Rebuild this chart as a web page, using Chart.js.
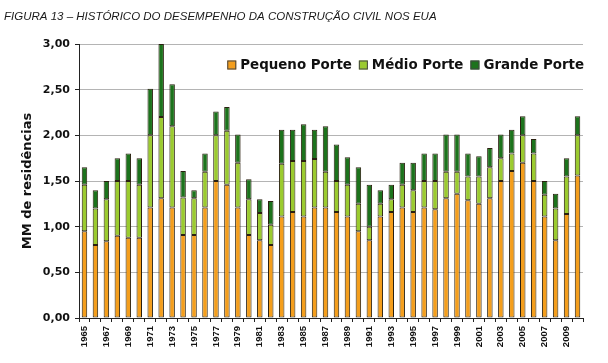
<!DOCTYPE html>
<html>
<head>
<meta charset="utf-8">
<script src="https://cdn.jsdelivr.net/npm/chart.js@4"></script>
<style>
  html, body { margin: 0; padding: 0; background: #fff; }
  #wrap { width: 608px; height: 363px; }
</style>
</head>
<body>
<div id="wrap"><canvas id="myChart" width="608" height="363"></canvas></div>
<script>
// Dados (MM de residências)
const anos = [];
for (let a = 1965; a <= 2010; a++) anos.push(String(a));

const pequenoPorte = [0.95, 0.80, 0.84, 0.90, 0.88, 0.88, 1.21, 1.31, 1.21, 0.91,
  0.91, 1.21, 1.50, 1.46, 1.21, 0.91, 0.85, 0.80, 1.11, 1.16,
  1.11, 1.21, 1.21, 1.16, 1.11, 0.95, 0.85, 1.11, 1.16, 1.21,
  1.16, 1.21, 1.19, 1.31, 1.36, 1.29, 1.25, 1.31, 1.50, 1.61,
  1.70, 1.50, 1.11, 0.85, 1.14, 1.56];
const medioPorte = [0.51, 0.40, 0.46, 0.60, 0.62, 0.58, 0.79, 0.89, 0.89, 0.41,
  0.40, 0.39, 0.50, 0.59, 0.49, 0.39, 0.30, 0.22, 0.58, 0.56,
  0.61, 0.53, 0.39, 0.34, 0.35, 0.30, 0.15, 0.14, 0.14, 0.25,
  0.24, 0.29, 0.31, 0.29, 0.24, 0.26, 0.30, 0.34, 0.25, 0.19,
  0.30, 0.30, 0.24, 0.35, 0.41, 0.44];
const grandePorte = [0.19, 0.20, 0.20, 0.25, 0.30, 0.29, 0.51, 0.80, 0.46, 0.29,
  0.09, 0.20, 0.26, 0.26, 0.31, 0.22, 0.15, 0.26, 0.37, 0.34,
  0.40, 0.32, 0.50, 0.40, 0.30, 0.40, 0.46, 0.15, 0.16, 0.24,
  0.30, 0.30, 0.30, 0.41, 0.41, 0.25, 0.22, 0.21, 0.26, 0.26,
  0.21, 0.16, 0.15, 0.16, 0.20, 0.21];

const titulo = 'FIGURA 13 – HISTÓRICO DO DESEMPENHO DA CONSTRUÇÃO CIVIL NOS EUA';
const tituloEixoY = 'MM de residências';

const corPequeno = '#F49E1C';
const corMedio = '#9BCB2F';
const corGrande = '#1C731C';
const corBorda = '#2a2010';

// titulo e legenda desenhados dentro do canvas
const extras = {
  id: 'extras',
  afterDraw(chart) {
    const c = chart.ctx;
    c.save();
    c.fillStyle = '#1a1a1a';
    c.font = 'italic 11.5px "Liberation Sans", Arial, sans-serif';
    c.textBaseline = 'middle';
    c.textAlign = 'left';
    c.fillText(titulo, 4, 17);

    c.font = 'bold 13.4px "DejaVu Sans", Verdana, sans-serif';
    const items = chart.data.datasets.map(d => ({ text: d.label, color: d.backgroundColor }));
    const box = 9, gap = 4, sep = 7;
    let total = 0;
    items.forEach((it, i) => {
      it.w = c.measureText(it.text).width;
      total += box + gap + it.w + (i < items.length - 1 ? sep : 0);
    });
    let x = 584 - total;
    const y = 65;
    items.forEach(it => {
      c.fillStyle = it.color;
      c.fillRect(x, y - box / 2, box, box);
      c.strokeStyle = '#444';
      c.lineWidth = 1;
      c.strokeRect(x + 0.5, y - box / 2 + 0.5, box - 1, box - 1);
      c.fillStyle = '#111';
      c.fillText(it.text, x + box + gap, y + 1);
      x += box + gap + it.w + sep;
    });
    c.restore();
  }
};

const ctx = document.getElementById('myChart').getContext('2d');

new Chart(ctx, {
  type: 'bar',
  data: {
    labels: anos,
    datasets: [
      { label: 'Pequeno Porte', data: pequenoPorte, backgroundColor: corPequeno },
      { label: 'Médio Porte', data: medioPorte, backgroundColor: corMedio },
      { label: 'Grande Porte', data: grandePorte, backgroundColor: corGrande }
    ].map(d => Object.assign(d, {
      borderColor: corBorda,
      borderWidth: 1,
      borderSkipped: false,
      barPercentage: 0.5,
      categoryPercentage: 1
    }))
  },
  options: {
    responsive: false,
    animation: false,
    layout: { padding: { top: 44, right: 25, left: 0, bottom: 0 } },
    plugins: {
      legend: { display: false },
      tooltip: { enabled: false }
    },
    scales: {
      x: {
        stacked: true,
        offset: true,
        grid: {
          offset: true,
          drawOnChartArea: false,
          drawTicks: true,
          tickLength: 4,
          tickColor: '#222'
        },
        border: { color: '#222', width: 1 },
        ticks: {
          autoSkip: false,
          maxRotation: 90,
          minRotation: 90,
          padding: 4,
          color: '#111',
          font: { family: '"Liberation Sans", Arial, sans-serif', size: 9.5, weight: 'bold' },
          callback: function (value, index) {
            return index % 2 === 0 ? this.getLabelForValue(value) : '';
          }
        },
        afterFit(scale) { scale.height = 45; }
      },
      y: {
        stacked: true,
        min: 0,
        max: 3,
        grid: {
          color: '#b4b4b4',
          tickColor: '#222',
          tickLength: 4
        },
        border: { color: '#222', width: 1 },
        ticks: {
          stepSize: 0.5,
          padding: 5,
          color: '#111',
          font: { family: '"DejaVu Sans", Verdana, sans-serif', size: 11, weight: 'bold' },
          callback: v => v.toFixed(2).replace('.', ',')
        },
        title: {
          display: true,
          text: tituloEixoY,
          color: '#111',
          font: { family: '"DejaVu Sans", Verdana, sans-serif', size: 13, weight: 'bold' },
          padding: { top: 20, bottom: 0 }
        },
        afterFit(scale) { scale.width = 79; }
      }
    }
  },
  plugins: [extras]
});
</script>
</body>
</html>
